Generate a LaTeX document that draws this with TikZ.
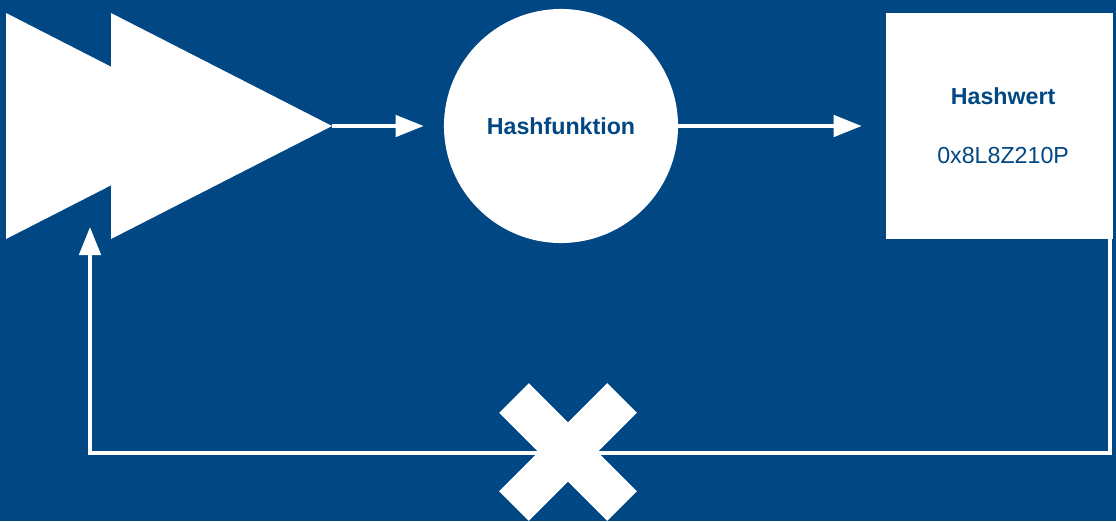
\documentclass[tikz,border=0pt]{standalone}
\usepackage{fontspec}
\setmainfont{Liberation Sans}
\usetikzlibrary{arrows.meta,positioning}
\definecolor{hashblue}{HTML}{004784}

\begin{document}
\begin{tikzpicture}[
  x=0.025cm, y=-0.025cm,
  font=\fontsize{16.5}{19}\selectfont,
  blob/.style={fill=white,text=hashblue,align=center,inner sep=0pt},
  flow/.style={-{Triangle[length=0.7cm,width=0.53cm]},white,line width=0.1cm},
  link/.style={white,line width=0.1cm},
  cross/.style={white,line width=1.05cm}
]
\useasboundingbox (0,0) rectangle (1116,521);
\fill[hashblue] (0,0) rectangle (1116,521);

% input: two overlapping play triangles
\fill[white] (6,13) -- (227,126) -- (6,239) -- cycle;
\fill[white] (111,13) -- (332,126) -- (111,239) -- cycle;
\coordinate (src) at (332,126);
\coordinate (back) at (90,227);

\node[blob,circle,minimum size=5.85cm] (hash) at (561,126) {\bfseries Hashfunktion};
\node[blob,minimum width=5.675cm,minimum height=5.65cm] (wert) at (999.5,126)
  {\hspace*{0.18cm}{\bfseries Hashwert}\\[23pt]\hspace*{0.18cm}0x8L8Z210P};

\draw[flow] (src) -- ([xshift=-0.5cm]hash.west);
\draw[flow] (hash.east) -- ([xshift=-0.6cm]wert.west);

% no way back from the hash value
\draw[link] ([xshift=-0.075cm]wert.south east) |- (90,453) -- ([yshift=-0.5cm]back);
\draw[flow] ([yshift=-0.6cm]back) -- (back);
\coordinate (cut) at (568,452);
\draw[cross] ([shift={(-54,-54)}]cut) -- ([shift={(54,54)}]cut);
\draw[cross] ([shift={(-54,54)}]cut) -- ([shift={(54,-54)}]cut);
\end{tikzpicture}
\end{document}
